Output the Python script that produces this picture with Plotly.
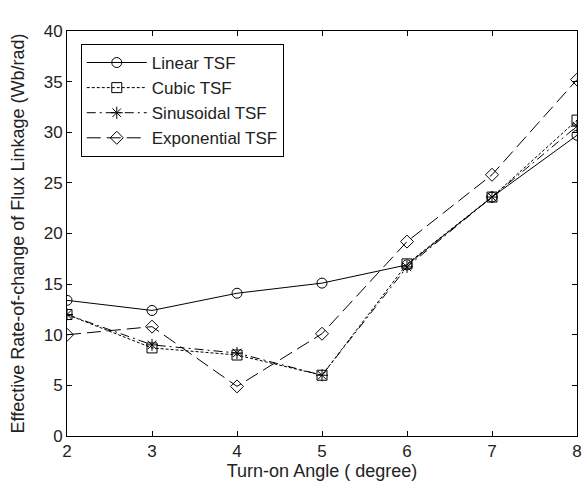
import plotly.graph_objects as go

angles = [2, 3, 4, 5, 6, 7, 8]
linear_tsf = [13.4, 12.4, 14.1, 15.1, 16.9, 23.6, 29.7]
cubic_tsf = [12.0, 8.7, 8.0, 6.0, 17.0, 23.6, 31.2]
sinusoidal_tsf = [12.0, 9.0, 8.2, 6.0, 16.7, 23.6, 30.6]
exponential_tsf = [10.0, 10.8, 4.9, 10.1, 19.2, 25.8, 35.2]

series = [
    ("Linear TSF", linear_tsf, "solid", "circle-open"),
    ("Cubic TSF", cubic_tsf, "3px,2px", "square-open"),
    ("Sinusoidal TSF", sinusoidal_tsf, "9px,4px,2px,4px", "asterisk-open"),
    ("Exponential TSF", exponential_tsf, "14px,6px", "diamond-open"),
]

fig = go.Figure()
for name, vals, dash, sym in series:
    fig.add_trace(go.Scatter(
        x=angles, y=vals, name=name, mode="lines+markers",
        line=dict(color="black", width=1, dash=dash),
        marker=dict(symbol=sym, size=10, color="black", line=dict(width=1, color="black")),
    ))

fam = "Liberation Sans, Arial, sans-serif"
tick_font = dict(family=fam, size=17, color="#222")
title_font = dict(family=fam, size=18, color="#222")
axis_common = dict(
    showgrid=False, zeroline=False, showline=True, linecolor="black", linewidth=1,
    mirror="ticks", ticks="inside", ticklen=5, tickcolor="black", tickfont=tick_font,
)
fig.update_layout(
    width=588, height=491,
    margin=dict(l=67, r=6, t=31, b=55),
    paper_bgcolor="white", plot_bgcolor="white",
    font=tick_font,
    showlegend=True,
    legend=dict(
        x=0.027, y=0.968, xanchor="left", yanchor="top",
        bgcolor="white", bordercolor="black", borderwidth=1,
        font=dict(family=fam, size=17, color="#222"),
        itemwidth=60, tracegroupgap=0,
    ),
    xaxis=dict(range=[2, 8], dtick=1, title=dict(text="Turn-on Angle ( degree)", font=title_font, standoff=2), **axis_common),
    yaxis=dict(range=[0, 40], dtick=5, title=dict(text="Effective Rate-of-change of Flux Linkage (Wb/rad)", font=title_font, standoff=14), **axis_common),
)

fig.write_html("out.html")
